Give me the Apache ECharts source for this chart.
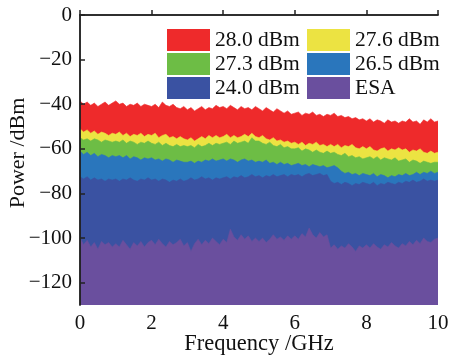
<!DOCTYPE html>
<html>
<head>
<meta charset="utf-8">
<script src="https://cdn.jsdelivr.net/npm/echarts@6/dist/echarts.min.js"></script>
<style>
  html, body { margin: 0; padding: 0; background: #fff; }
  #chart { width: 451px; height: 355px; }
</style>
</head>
<body>
<div id="chart"></div>
<script>
// frequency grid, 0.1 GHz steps (0..10 GHz)
const freq = Array.from({ length: 101 }, (_, i) => +(i * 0.1).toFixed(1))

const names = ['28.0 dBm', '27.6 dBm', '27.3 dBm', '26.5 dBm', '24.0 dBm', 'ESA']
const colors = ['#ee2a2b', '#ece342', '#6dbd45', '#2a76bc', '#3a52a2', '#6a4f9e']

const p280 = [
  -38.5, -40, -39, -40.5, -39.5, -41, -40, -39, -40.5, -39.5,
  -38.5, -40, -39.5, -41, -40, -40.5, -39.5, -41, -40, -40.5,
  -41, -40, -41.5, -39, -40.5, -41, -40, -41.5, -42, -41,
  -42.5, -41.5, -43, -42, -41, -42.5, -41.5, -42, -40.5, -41.5,
  -41, -42, -40.5, -41.5, -42.5, -41, -42, -41.5, -42.5, -41,
  -42, -43, -41.5, -42.5, -43.5, -42, -43, -44, -43, -44.5,
  -44, -43.5, -45, -44, -44.5, -43.5, -45, -44.5, -45.5, -44.5,
  -45, -44, -45.5, -45, -46, -45.5, -46.5, -46, -47, -46.5,
  -47.5, -46.5, -48, -47, -47.5, -48.5, -47, -48, -47.5, -48.5,
  -47.5, -48, -46.5, -48, -47.5, -49, -47, -48, -46.5, -48,
  -47.5
]
const p276 = [
  -51, -52.5, -51.5, -53, -52, -53.5, -52.5, -53, -54, -53,
  -53.5, -52.5, -54, -53, -54.5, -53.5, -54, -53, -54.5, -53.5,
  -54, -53, -55, -54, -53.5, -55, -54.5, -55.5, -54.5, -55.5,
  -56, -55, -56.5, -55.5, -54.5, -55.5, -54, -55, -54, -55,
  -54.5, -53.5, -55, -54, -55, -54.5, -53.5, -54.5, -53, -54.5,
  -55, -54, -55.5, -56, -55, -56.5, -56, -57, -56.5, -57.5,
  -57, -58, -57, -58.5, -57.5, -58, -57, -58.5, -58, -59,
  -58, -59, -58, -59.5, -58.5, -59, -58, -59.5, -60, -59,
  -60, -59, -60.5, -61, -60, -59.5, -61, -60, -60.5, -59.5,
  -60.5, -60, -61.5, -60.5, -61, -60, -61.5, -62, -61, -62,
  -61.5
]
const p273 = [
  -55, -56, -55.5, -56.5, -55.5, -56, -57, -56, -56.5, -57,
  -56.5, -57, -56, -57.5, -56.5, -57, -58, -57, -57.5, -56.5,
  -57.5, -58, -57, -58.5, -57.5, -58.5, -59, -58, -59, -58.5,
  -59, -58.5, -59.5, -58, -59, -58.5, -57.5, -58.5, -57.5, -58,
  -57.5, -57, -58, -56.5, -57.5, -57, -56.5, -57.5, -55, -56.5,
  -56.5, -57.5, -58, -57, -58.5, -59, -58, -59.5, -59, -60,
  -60, -59.5, -61, -60, -60.5, -61.5, -60.5, -61.5, -62, -61,
  -62, -61.5, -62.5, -63, -62, -63.5, -63, -64, -63.5, -64.5,
  -64, -63.5, -64.5, -63.5, -65, -64, -64.5, -65, -64, -65.5,
  -65, -64.5, -66, -65, -65.5, -66.5, -65.5, -66, -66.5, -66,
  -66
]
const p265 = [
  -61, -62.5, -61.5, -63, -62, -63.5, -62.5, -63, -64, -63,
  -63.5, -63, -64, -63, -64.5, -63.5, -64, -65, -64, -64.5,
  -64, -65, -64.5, -65.5, -64.5, -65, -66, -65, -65.5, -66,
  -66, -65.5, -66.5, -65.5, -66, -65, -65.5, -64.5, -65.5, -65,
  -64.5, -65.5, -64.5, -65, -66, -65, -64.5, -65.5, -65, -66,
  -65.5, -66, -65, -66.5, -66, -67, -66, -67, -66.5, -67.5,
  -67, -66.5, -67.5, -67, -68, -67, -67.5, -68, -67.5, -68.5,
  -68, -67.5, -68.5, -70, -71, -70.5, -71.5, -71, -72, -71,
  -71.5, -72, -71, -72.5, -71.5, -72, -73, -72, -72.5, -71.5,
  -72, -71, -72, -71.5, -70.5, -71.5, -70.5, -71, -70, -71,
  -70.5
]
const p240 = [
  -72.5, -73.5, -72.5, -74, -73, -74, -73.5, -74.5, -73.5, -74,
  -73.5, -74.5, -73.5, -74, -73, -74, -74.5, -73.5, -74, -73,
  -74, -73.5, -74.5, -73.5, -74, -75, -74, -74.5, -73.5, -74.5,
  -74, -73, -74, -73.5, -72.5, -73.5, -73, -74, -73, -73.5,
  -73, -72.5, -73.5, -72.5, -73, -72, -73, -72.5, -71.5, -72.5,
  -72, -73, -72, -72.5, -71.5, -72.5, -72, -71.5, -72.5, -71.5,
  -72, -71.5, -72.5, -71.5, -71, -72, -71.5, -71, -72, -71.5,
  -74.5, -75.5, -75, -76, -75, -75.5, -76.5, -75.5, -76, -75,
  -75.5, -76, -75, -76.5, -75.5, -76, -75, -75.5, -76, -75,
  -75.5, -74.5, -75, -74, -75, -74.5, -73.5, -74.5, -74, -74.5,
  -74
]
const esa = [
  -100, -103, -101, -104, -102, -105, -101.5, -103, -102, -104,
  -102.5, -104, -101, -103, -105, -102, -103.5, -101.5, -104, -102,
  -101, -103, -100.5, -102.5, -104, -101.5, -103, -102, -100.5, -103.5,
  -102, -106, -102.5, -100.5, -103, -101, -102.5, -100, -101.5, -103,
  -100.5, -102, -96, -99.5, -101, -98.5, -100.5, -99, -101.5, -100,
  -101.5, -100, -102, -100.5, -98.5, -100.5, -99.5, -101, -99, -100.5,
  -99, -100.5, -98, -99.5, -95.5, -98.5, -100, -97.5, -99.5, -98.5,
  -104.5, -103, -105, -103.5, -104.5, -102.5, -104, -106, -103.5, -104.5,
  -103, -104.5, -102.5, -104, -105, -103, -104, -102, -103.5, -104.5,
  -102.5, -103.5, -101.5, -103, -101, -102.5, -100, -101.5, -102, -100.5,
  -100
]

const yTicks = [-120, -100, -80, -60, -40, -20, 0]

const font = 'Liberation Serif'
const seriesData = [p280, p276, p273, p265, p240, esa]

const chart = echarts.init(document.getElementById('chart'))

const series = seriesData.map((vals, k) => ({
  name: names[k],
  type: 'line',
  data: vals.map((v, i) => [freq[i], v]),
  showSymbol: false,
  color: colors[k],
  lineStyle: { width: 0.6, color: colors[k] },
  areaStyle: { color: colors[k], opacity: 1, origin: 'start' },
  silent: true
}))

const legendBase = {
  orient: 'vertical',
  top: 24,
  itemWidth: 43,
  itemHeight: 22,
  itemGap: 2,
  icon: 'rect',
  selectedMode: false,
  textStyle: { fontFamily: font, fontSize: 21.5, color: '#111' }
}

chart.setOption({
  animation: false,
  backgroundColor: '#fff',
  grid: { left: 80, right: 13, top: 15, bottom: 50, outerBoundsMode: 'none', containLabel: false },
  legend: [
    Object.assign({}, legendBase, { left: 162, data: [names[0], names[2], names[4]] }),
    Object.assign({}, legendBase, { left: 302, data: [names[1], names[3], names[5]] })
  ],
  xAxis: [{
    type: 'value', min: 0, max: 10, interval: 2, z: 10,
    name: 'Frequency /GHz', nameLocation: 'middle', nameGap: 28, nameMoveOverlap: false,
    nameTextStyle: { fontFamily: font, fontSize: 22.5, color: '#111' },
    axisLine: { lineStyle: { color: '#222', width: 1.5 } },
    axisTick: { inside: true, length: 5, lineStyle: { color: '#222', width: 1.5 } },
    axisLabel: { fontFamily: font, fontSize: 21, color: '#111', margin: 8 },
    splitLine: { show: false }
  }, {
    type: 'value', min: 0, max: 10, position: 'top', z: 10,
    axisLine: { show: true, lineStyle: { color: '#222', width: 1.5 } },
    axisTick: { show: false }, axisLabel: { show: false }, splitLine: { show: false }
  }],
  yAxis: [{
    type: 'value', min: -130, max: 0, z: 10,
    name: 'Power /dBm', nameLocation: 'middle', nameGap: 51, nameMoveOverlap: false,
    nameTextStyle: { fontFamily: font, fontSize: 22, color: '#111', padding: [0, 0, 0, 14] },
    axisLine: { show: true, lineStyle: { color: '#222', width: 1.5 } },
    axisTick: { inside: true, length: 5, customValues: yTicks, lineStyle: { color: '#222', width: 1.5 } },
    axisLabel: {
      fontFamily: font, fontSize: 21, color: '#111', margin: 8,
      customValues: yTicks,
      formatter: v => (v < 0 ? '\u2212' + Math.abs(v) : String(v))
    },
    splitLine: { show: false }
  }, {
    type: 'value', min: -130, max: 0, position: 'right', z: 10,
    axisLine: { show: true, lineStyle: { color: '#222', width: 1.5 } },
    axisTick: { show: false }, axisLabel: { show: false }, splitLine: { show: false }
  }],
  series: series
})
</script>
</body>
</html>
